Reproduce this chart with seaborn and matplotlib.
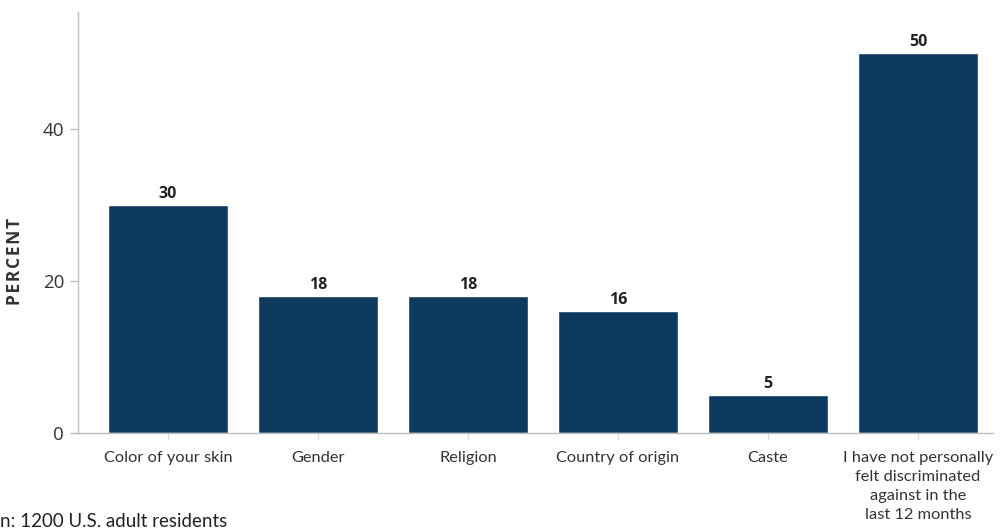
import matplotlib
matplotlib.use("Agg")
import matplotlib.pyplot as plt
import seaborn as sns
import pandas as pd

categories = [
    "Color of your skin",
    "Gender",
    "Religion",
    "Country of origin",
    "Caste",
    "I have not personally\nfelt discriminated\nagainst in the\nlast 12 months",
]
percents = [30, 18, 18, 16, 5, 50]
y_ticks = [0, 20, 40]
note_text = "n: 1200 U.S. adult residents"

bar_color = "#0f3a5f"
axis_gray = "#bdbdbd"
text_gray = "#333333"

sns.set_theme(style="white")
plt.rcParams["font.family"] = ["Open Sans", "DejaVu Sans"]

df = pd.DataFrame({"category": categories, "percent": percents})

fig = plt.figure(figsize=(10.02, 5.29), dpi=100)
ax = fig.add_axes([78 / 1002, 1 - 433 / 529, 915 / 1002, 421 / 529])

sns.barplot(data=df, x="category", y="percent", color=bar_color,
            saturation=1, width=0.8, ax=ax)

ax.set_xlim(-0.6, 5.5)
ax.set_ylim(0, 55.4)
ax.set_yticks(y_ticks)
ax.set_yticklabels([str(t) for t in y_ticks], fontsize=13.5, color=text_gray,
                   fontfamily=["Open Sans", "DejaVu Sans"])
ax.set_xticks(range(len(categories)))
ax.set_xticklabels(categories, fontsize=11.8, color=text_gray,
                   fontfamily=["Lato", "DejaVu Sans"], linespacing=1.45)

for side in ["top", "right"]:
    ax.spines[side].set_visible(False)
for side in ["left", "bottom"]:
    ax.spines[side].set_color(axis_gray)
    ax.spines[side].set_linewidth(1)

ax.tick_params(axis="y", which="major", length=6, width=1, color=axis_gray,
               left=True, pad=4)
ax.tick_params(axis="x", which="major", length=5, width=1, color="#dddddd",
               bottom=True, pad=8)

ax.set_xlabel("")
ax.set_ylabel("")

# Rotated, letter-spaced axis title, a little below the axes' midpoint
title = "\u200a".join("PERCENT")
fig.text(15 / 1002, 1 - 261 / 529, title, rotation=90, fontsize=12.5,
         fontweight="bold", color=text_gray, ha="center", va="center",
         fontfamily=["Open Sans", "DejaVu Sans"])

for patch, val in zip(ax.patches, percents):
    ax.text(patch.get_x() + patch.get_width() / 2, patch.get_height() + 0.45,
            str(val), ha="center", va="bottom", fontsize=11.5,
            fontweight="bold", color="#222222",
            fontfamily=["Open Sans", "DejaVu Sans"])

fig.text(0.0, 2 / 529, note_text, fontsize=13.5, color="#222222",
         ha="left", va="baseline", fontfamily=["Lato", "DejaVu Sans"])

fig.savefig("out.png", dpi=100)
